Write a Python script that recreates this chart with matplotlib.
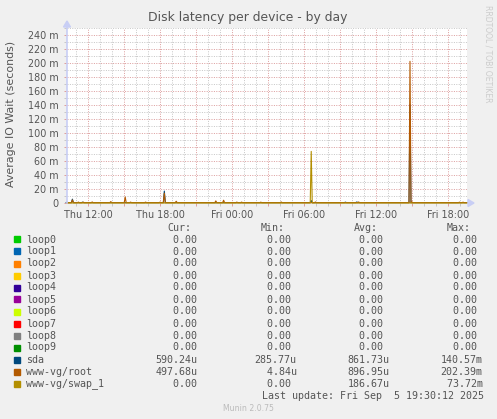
import matplotlib
matplotlib.use('Agg')
from matplotlib import pyplot as plt
from matplotlib.lines import Line2D
from matplotlib.patches import Polygon, Rectangle

W, H = 497, 419

# legend table
names = ['loop0', 'loop1', 'loop2', 'loop3', 'loop4', 'loop5', 'loop6',
         'loop7', 'loop8', 'loop9', 'sda', 'www-vg/root', 'www-vg/swap_1']
colors = ['#00CC00', '#0066B3', '#FF8000', '#FFCC00', '#330099', '#990099',
          '#CCFF00', '#FF0000', '#808080', '#008F00', '#00487D', '#B35A00',
          '#B38F00']
cur = ['0.00'] * 10 + ['590.24u', '497.68u', '0.00']
mins = ['0.00'] * 10 + ['285.77u', '4.84u', '0.00']
avgs = ['0.00'] * 10 + ['861.73u', '896.95u', '186.67u']
maxs = ['0.00'] * 10 + ['140.57m', '202.39m', '73.72m']

# time axis in hours since Thu 00:00, values in ms
t_start, t_end = 10.25, 43.58
step = 5 / 60.0

sda_t = [10.25, 10.70, 11.55, 18.36, 30.60, 33.45, 34.40, 38.83]
sda_v = [1.2, 5.5, 1.2, 17.0, 3.5, 1.2, 1.5, 140.57]
root_t = [10.70, 11.20, 11.60, 12.35, 13.90, 15.10, 15.55, 16.80, 18.00, 18.36,
          19.35, 22.65, 23.30, 24.40, 24.80, 26.40, 28.10, 30.95, 34.55,
          38.83, 39.00, 42.95, 43.25]
root_v = [4.5, 1.3, 1.3, 1.5, 2.0, 8.5, 1.3, 1.3, 1.2, 14.0,
          2.5, 3.0, 4.0, 1.3, 1.3, 1.2, 1.5, 1.5, 1.5,
          202.39, 1.5, 1.2, 1.2]
swap_t = [30.60]
swap_v = [73.72]


def spike_line(times, peaks, base):
    xs, ys = [t_start], [base]
    for t, v in zip(times, peaks):
        xs += [t - step, t, t + step]
        ys += [base, v, base]
    xs.append(t_end)
    ys.append(base)
    return xs, ys


def px(x, y):
    return (x / W, 1 - y / H)


fig = plt.figure(figsize=(W / 100, H / 100), dpi=100, facecolor='#F0F0F0')
left, right, top, bottom = 67, 467, 28, 203
ax = fig.add_axes([left / W, 1 - bottom / H, (right - left) / W, (bottom - top) / H])
ax.set_facecolor('white')
ax.set_xlim(t_start, t_end)
ax.set_ylim(0, 250)
for s in ax.spines.values():
    s.set_visible(False)

red = '#DDA0A0'
grey = '#C8C8C8'
dots = (0, (1, 1.4))
ax.set_yticks(range(0, 241, 20))
ax.set_yticks(range(10, 251, 20), minor=True)
ax.set_yticklabels(['0'] + ['%d m' % v for v in range(20, 241, 20)])
ax.set_xticks(range(12, 44, 3))
ax.set_xticks([h for h in range(11, 44) if h % 3], minor=True)
day_labels = {12: 'Thu 12:00', 18: 'Thu 18:00', 24: 'Fri 00:00',
              30: 'Fri 06:00', 36: 'Fri 12:00', 42: 'Fri 18:00'}
ax.set_xticklabels([day_labels.get(h, '') for h in range(12, 44, 3)])
ax.grid(which='major', color=red, linestyle=dots, linewidth=0.72)
ax.grid(which='minor', color=grey, linestyle=dots, linewidth=0.72)
ax.set_axisbelow(True)
ax.tick_params(which='major', length=2, width=0.72, color=red,
               labelsize=6.9, labelcolor='#555555', pad=3)
ax.tick_params(which='minor', length=2, width=0.72, color=grey)
ax.tick_params(axis='y', pad=4)

for c in colors[:10]:
    ax.plot([t_start, t_end], [0, 0], color=c, lw=0.8)
for (ts, vs, base), c in zip([(sda_t, sda_v, 0.6), (root_t, root_v, 0.5),
                              (swap_t, swap_v, 0.0)], colors[10:]):
    xs, ys = spike_line(ts, vs, base)
    ax.plot(xs, ys, color=c, lw=0.8, clip_on=False)

# axes with arrows
axis_col = '#C8CEF5'
fig.add_artist(Line2D(*zip(px(67, 203), px(67, 26)), color=axis_col, lw=1.2,
                      transform=fig.transFigure))
fig.add_artist(Polygon([px(63.5, 27), px(70.5, 27), px(67, 21)], closed=True,
                       color=axis_col, transform=fig.transFigure))
fig.add_artist(Polygon([px(468, 199.5), px(468, 206.5), px(474, 203)], closed=True,
                       color=axis_col, transform=fig.transFigure))

fig.text(*px(248, 18), 'Disk latency per device - by day', ha='center', va='center',
         fontsize=8.9, color='#555555')
fig.text(*px(11, 114), 'Average IO Wait (seconds)', rotation=90, ha='center',
         va='center', fontsize=7.9, color='#555555')
fig.text(*px(488, 5), 'RRDTOOL / TOBI OETIKER', rotation=270, ha='center',
         va='top', fontsize=5.5, color='#CCCCCC')

mono = dict(family='DejaVu Sans Mono', fontsize=7.18, color='#555555', va='center')
cw = 6.0
fig.text(*px(167.7, 228), 'Cur:', **mono)
fig.text(*px(261, 228), 'Min:', **mono)
fig.text(*px(354, 228), 'Avg:', **mono)
fig.text(*px(446.7, 228), 'Max:', **mono)


def cell(v, trail):
    if trail and v[-1].isdigit():
        v = v + ' '
    return v.rjust(7)


for i, n in enumerate(names):
    y = 239.5 + 12 * i
    fig.add_artist(Rectangle(px(14, y + 3), 6 / W, 6 / H, color=colors[i],
                             transform=fig.transFigure))
    fig.text(*px(26.3, y), n, **mono)
    fig.text(*px(197.3 - 7 * cw, y), cell(cur[i], False), **mono)
    fig.text(*px(296.7 - 7 * cw, y), cell(mins[i], True), **mono)
    fig.text(*px(389.3 - 7 * cw, y), cell(avgs[i], True), **mono)
    fig.text(*px(482.7 - 7 * cw, y), cell(maxs[i], True), **mono)

fig.text(*px(261.7, 395.5), 'Last update: Fri Sep  5 19:30:12 2025', **mono)
fig.text(*px(248, 408), 'Munin 2.0.75', ha='center', va='center', fontsize=5.6,
         color='#BBBBBB')

fig.savefig('out.png', dpi=100, facecolor=fig.get_facecolor())
